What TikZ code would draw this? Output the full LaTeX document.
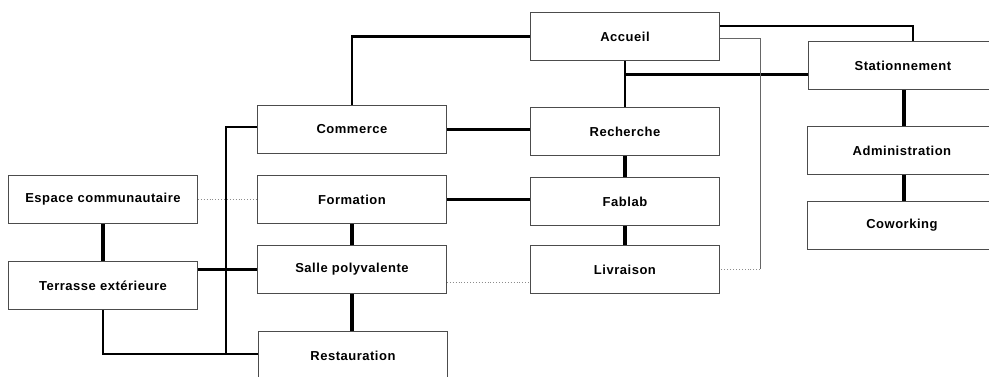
\documentclass[tikz,border=0pt]{standalone}
\usepackage{fontspec}
\setmainfont[LetterSpace=4]{Liberation Sans}
\begin{document}
\begin{tikzpicture}[x=1pt,y=-1pt,
  box/.style={draw=black!70, line width=0.9pt, fill=white, minimum width=189pt, minimum height=48pt, inner sep=0pt, anchor=north west, font=\bfseries\fontsize{13}{15}\selectfont},
  thk/.style={line width=3.8pt},
  med/.style={line width=2.3pt},
  faint/.style={draw=black!60, line width=0.8pt},
  dots/.style={draw=black!45, line width=0.9pt, dotted}]
\useasboundingbox (0,0) rectangle (989,376);
% boxes
\node[box] (acc) at (530,12) {Accueil};
\node[box] (sta) at (808,41) {Stationnement};
\node[box] (adm) at (807,126) {Administration};
\node[box] (cow) at (807,201) {Coworking};
\node[box] (com) at (257,105) {Commerce};
\node[box] (rec) at (530,107) {Recherche};
\node[box] (for) at (257,175) {Formation};
\node[box] (fab) at (530,177) {Fablab};
\node[box] (sal) at (257,245) {Salle polyvalente};
\node[box] (liv) at (530,245) {Livraison};
\node[box] (res) at (258,331) {Restauration};
\node[box] (esp) at (8,175) {Espace communautaire};
\node[box] (ter) at (8,261) {Terrasse extérieure};
% coordinates
\coordinate (busT) at (226,127);
\coordinate (busB) at (226,354);
\coordinate (accR) at (760,38);
\coordinate (livR) at (760,269);
\coordinate (accS) at (913,26);
\coordinate (jn) at (624,74.5);
% connectors
\draw[med] (acc.west) -| (com.north);
\draw[med] (acc.east |- accS) -| (sta.north -| accS);
\draw[med] (acc.south) -- (rec.north);
\draw[med] (jn) -- (sta.west |- jn);
\draw[faint] (acc.east |- accR) -- (accR) -- (livR);
\draw[dots] (livR) -- (liv.east |- livR);
\draw[thk] (com.east) -- (rec.west |- com.east);
\draw[thk] (rec.south) -- (fab.north);
\draw[thk] (fab.south) -- (liv.north);
\draw[thk] (for.east) -- (fab.west |- for.east);
\draw[thk] (for.south) -- (sal.north);
\draw[thk] (sal.south) -- (res.north -| sal.south);
\draw[dots] (sal.east |- 0,282) -- (liv.west |- 0,282);
\draw[dots] (esp.east) -- (for.west |- esp.east);
\draw[thk] (esp.south) -- (ter.north);
\draw[med] (ter.east |- sal.west) -- (sal.west);
\draw[med] (com.west |- busT) -- (busT) -- (busB);
\draw[med] (ter.south) |- (res.west |- busB);
\draw[thk] (sta.south -| 904,0) -- (adm.north -| 904,0);
\draw[thk] (adm.south -| 904,0) -- (cow.north -| 904,0);
% redraw box outlines on top
\foreach \n in {acc,sta,adm,cow,com,rec,for,fab,sal,liv,res,esp,ter}{\draw[draw=black!70, line width=0.9pt] (\n.north west) rectangle (\n.south east);}
\end{tikzpicture}
\end{document}
